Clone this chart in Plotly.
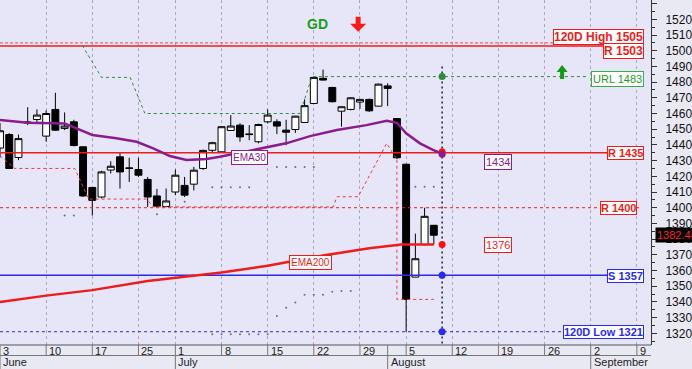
import plotly.graph_objects as go

# ---------------- data (x = trading-day index, 0 = 3 June) ----------------
days = list(range(48))
opens = [1438, 1446.6, 1432, 1454, 1456.2, 1445.6, 1462.6, 1450.5, 1454.7, 1438.8,
         1412.9, 1406.8, 1424, 1432.4, 1425, 1424.3, 1418, 1407.5, 1400.8, 1410,
         1414.2, 1415, 1425, 1436.6, 1435.6, 1449.2, 1452.6, 1447, 1442, 1454.7,
         1454.7, 1449.4, 1449.8, 1454.3, 1466.4, 1482.4, 1476.6, 1461.5, 1462.6, 1467.3,
         1469, 1464.7, 1477.6, 1456.8, 1427.7, 1355.8, 1376.5, 1388.8]
highs = [1454, 1447.5, 1446.6, 1464, 1462.6, 1462, 1473.2, 1460.7, 1456, 1439,
         1413, 1423.5, 1429.6, 1435, 1431.8, 1431.8, 1419.6, 1412, 1412.2, 1424.3,
         1419.6, 1426, 1437, 1442, 1452, 1459, 1453.7, 1452.6, 1453.5, 1462.6,
         1456.3, 1456, 1458.5, 1469, 1483, 1488, 1477, 1464.5, 1470.5, 1469,
         1469.5, 1479, 1479.2, 1457, 1428, 1383.5, 1400, 1389]
lows = [1432, 1425, 1430.3, 1452.6, 1454, 1442, 1449, 1449.4, 1439, 1406.8,
        1395, 1406, 1421.8, 1412.2, 1416.4, 1419.6, 1400.5, 1400.5, 1400.5, 1408,
        1406.8, 1411, 1424, 1435, 1435, 1449, 1442, 1443, 1441, 1453.7,
        1446.9, 1439.8, 1447.6, 1454, 1466, 1481, 1467, 1451.6, 1462, 1463,
        1461, 1464.5, 1464.7, 1431, 1321, 1355.8, 1376, 1376.5]
closes = [1449, 1425, 1444, 1454.5, 1459, 1460, 1449.4, 1452, 1439.6, 1407.5,
          1404.7, 1422.8, 1426.4, 1422.8, 1425.3, 1420.7, 1406.8, 1401, 1404.3, 1420.7,
          1408, 1423.9, 1436.5, 1441.4, 1451.6, 1452, 1445.1, 1446.6, 1453, 1459,
          1452, 1448.1, 1458.3, 1465, 1483, 1481.3, 1467.5, 1464.3, 1470, 1469,
          1461.7, 1478.7, 1476, 1431.8, 1341.6, 1367.5, 1394.5, 1382.46]
last_price = 1382.46

ema30_x = [0, 3, 7, 8.7, 10, 12.6, 14.8, 16.6, 18.4, 20.2, 22.4, 23.8, 28.2, 31,
           33.6, 36.5, 39.7, 41.9, 43, 44, 45.5, 46.9, 47.9]
ema30_y = [1455.8, 1454.1, 1453.7, 1449.5, 1446.3, 1444.2, 1442, 1437.8, 1432.9, 1430.4,
           1431, 1432.4, 1437.8, 1441, 1445.6, 1449.5, 1452.6, 1455.4, 1454.1, 1447.4,
           1441, 1436.8, 1434.4]
ema200_x = [0, 5, 10, 16, 24, 29, 35, 40, 43.5, 47]
ema200_y = [1340, 1344, 1347.5, 1353.3, 1358.7, 1363, 1369.5, 1374.2, 1376.5, 1376.5]

url_x = [8.9, 11.0, 14.1, 15.7, 32.5, 33.8, 47.9, 63.6]
url_y = [1503.5, 1483, 1483, 1460, 1460, 1483.5, 1483.5, 1483.5]
lrl_x = [0, 1.6, 8.1, 9.6, 15.9, 16.6, 36.1, 36.5, 38.8, 41.9, 42.8, 43.0, 43.0, 47]
lrl_y = [1433, 1425, 1425, 1405.5, 1405.5, 1400.5, 1400.5, 1407, 1407, 1441, 1432.4,
         1432, 1341.6, 1341.6]

upper_dots_x = [7, 8, 17, 20, 23, 24, 25, 26, 27, 30, 31, 32, 33, 34, 45, 46, 47]
upper_dots_y = [1395, 1395, 1395.8, 1403.8, 1413, 1413, 1413, 1413, 1413, 1426, 1426,
                1426, 1426, 1426, 1413.4, 1413.4, 1413.4]
lower_dots_x = [23, 24, 25, 26, 27, 28, 29, 30, 31, 32, 33, 34, 35, 36, 37, 38]
lower_dots_y = [1319.4, 1319.4, 1319.4, 1319.4, 1319.4, 1319.4, 1319.4, 1331, 1336.3,
                1339.7, 1344.6, 1344.6, 1344.6, 1346.5, 1347, 1347]

level_names = ["120D High 1505", "R 1503", "R 1435", "R 1400", "S 1357", "120D Low 1321"]
level_values = [1505, 1503, 1435, 1400, 1357, 1321]

today_x = 47.9
today_points = [1483.5, 1435.6, 1434.0, 1376.5, 1357, 1321]

ema30_last = 1434
ema200_last = 1376
url_level = 1483

week_idx = [0, 5, 10, 15, 19, 24, 29, 34, 39, 44, 49, 54, 59, 64, 69]
day_labels = ['3', '10', '17', '25', '1', '8', '15', '22', '29', '5', '12', '19', '26', '2', '9']
month_idx = [0, 19, 42, 64]
month_labels = ['June', 'July', 'August', 'September']

# signal arrows: (x index, price at tip, direction)
sell_arrow = (38.8, 1512.1, "down")
buy_arrow = (60.9, 1490.9, "up")

# ---------------- styles ----------------
FONT = "Liberation Sans, Arial, sans-serif"
RED = "#EE1C1C"
BLUE = "#2A2AEE"
GREEN = "#2E8B3A"
PURPLE = "#8A1C8E"
W, H = 692, 369
ML, MR, MT, MB = 0, 41, 0, 24
PW, PH = W - ML - MR, H - MT - MB
X_RANGE = [0, 70.53]
Y_RANGE = [1312.55, 1532.3]
PX_X = (X_RANGE[1] - X_RANGE[0]) / PW   # data units per pixel
PX_Y = (Y_RANGE[1] - Y_RANGE[0]) / PH


def py(p):
    """pixel row below plot -> paper y"""
    return -(p - (H - MB)) / PH


def arrow_path(xc, ytip, direction, head_hw, head_h, shaft_hw, total_h):
    s = -1 if direction == "down" else 1
    yb = ytip - s * head_h * PX_Y
    ye = ytip - s * total_h * PX_Y
    hw, sw = head_hw * PX_X, shaft_hw * PX_X
    pts = [(xc, ytip), (xc + hw, yb), (xc + sw, yb), (xc + sw, ye),
           (xc - sw, ye), (xc - sw, yb), (xc - hw, yb)]
    return "M " + " L ".join("%.4f,%.4f" % p for p in pts) + " Z"


fig = go.Figure()

level_styles = [
    dict(color="#F04A4A", width=1, dash="3px,2px"),
    dict(color=RED, width=1.5, dash="solid"),
    dict(color=RED, width=1.5, dash="solid"),
    dict(color=RED, width=1, dash="3px,3px"),
    dict(color=BLUE, width=1.5, dash="solid"),
    dict(color=BLUE, width=1, dash="3px,3px"),
]
for val, st in zip(level_values, level_styles):
    fig.add_trace(go.Scatter(x=[X_RANGE[0], 69.5], y=[val, val], mode="lines",
                             line=st, hoverinfo="skip", showlegend=False))

fig.add_trace(go.Scatter(x=url_x, y=url_y, mode="lines",
                         line=dict(color=GREEN, width=1, dash="3px,3px"),
                         hoverinfo="skip", showlegend=False))
fig.add_trace(go.Scatter(x=lrl_x, y=lrl_y, mode="lines",
                         line=dict(color="#F03A3A", width=1, dash="3px,3px"),
                         hoverinfo="skip", showlegend=False))
fig.add_trace(go.Scatter(x=upper_dots_x, y=upper_dots_y, mode="markers",
                         marker=dict(color="#6A6A80", size=2), hoverinfo="skip", showlegend=False))
fig.add_trace(go.Scatter(x=lower_dots_x, y=lower_dots_y, mode="markers",
                         marker=dict(color="#6A6A9A", size=2), hoverinfo="skip", showlegend=False))

fig.add_trace(go.Candlestick(x=days, open=opens, high=highs, low=lows, close=closes,
                             increasing=dict(line=dict(color="black", width=1), fillcolor="white"),
                             decreasing=dict(line=dict(color="black", width=1), fillcolor="black"),
                             whiskerwidth=0, hoverinfo="skip", showlegend=False))

fig.add_trace(go.Scatter(x=ema200_x, y=ema200_y, mode="lines",
                         line=dict(color=RED, width=2.5), hoverinfo="skip", showlegend=False))
fig.add_trace(go.Scatter(x=ema30_x, y=ema30_y, mode="lines",
                         line=dict(color=PURPLE, width=2.5), hoverinfo="skip", showlegend=False))

fig.add_trace(go.Scatter(x=[today_x, today_x], y=[1490, Y_RANGE[0]], mode="lines",
                         line=dict(color="#222233", width=1.5, dash="2px,3px"),
                         hoverinfo="skip", showlegend=False))
fig.add_trace(go.Scatter(x=[today_x] * len(today_points), y=today_points, mode="markers",
                         marker=dict(color=[GREEN, "#FF1010", PURPLE, "#FF1010", BLUE, BLUE], size=7),
                         hoverinfo="skip", showlegend=False))

annotations = []
label_specs = [
    (level_names[0], level_values[0], RED, 69.75, 5.5, 12),
    (level_names[1], level_values[1], RED, 69.75, -4.5, 12),
    (level_names[2], level_values[2], RED, 69.75, 0, 11),
    (level_names[3], level_values[3], RED, 69.0, 0, 11),
    (level_names[4], level_values[4], BLUE, 69.75, -1, 11),
    (level_names[5], level_values[5], BLUE, 69.75, 0, 11),
]
for txt, val, col, xr, ys, fs in label_specs:
    annotations.append(dict(x=xr, y=val, xref="x", yref="y", text="<b>%s</b>" % txt,
                            showarrow=False, xanchor="right", yanchor="middle", yshift=ys,
                            font=dict(family=FONT, size=fs, color=col),
                            bgcolor="white", bordercolor=col, borderwidth=1, borderpad=0))
annotations.append(dict(x=69.75, y=url_level, xref="x", yref="y", text="URL %d" % url_level,
                        showarrow=False, xanchor="right", yanchor="middle", yshift=-1.5,
                        font=dict(family=FONT, size=11, color="#1F9A2A"),
                        bgcolor="white", bordercolor="#3DAA48", borderwidth=1, borderpad=1))
annotations.append(dict(x=53.9, y=ema30_last, xref="x", yref="y", text=str(ema30_last),
                        showarrow=False, xanchor="center", yanchor="middle", yshift=-8,
                        font=dict(family=FONT, size=11, color=PURPLE),
                        bgcolor="white", bordercolor=PURPLE, borderwidth=1, borderpad=1))
annotations.append(dict(x=53.9, y=ema200_last, xref="x", yref="y", text=str(ema200_last),
                        showarrow=False, xanchor="center", yanchor="middle", yshift=0,
                        font=dict(family=FONT, size=11, color=RED),
                        bgcolor="white", bordercolor=RED, borderwidth=1, borderpad=1))
annotations.append(dict(x=26.98, y=1432.2, xref="x", yref="y", text="EMA30",
                        showarrow=False, font=dict(family=FONT, size=10, color=PURPLE),
                        bgcolor="white", bordercolor=PURPLE, borderwidth=1, borderpad=1))
annotations.append(dict(x=33.64, y=1365.3, xref="x", yref="y", text="EMA200",
                        showarrow=False, font=dict(family=FONT, size=10, color=RED),
                        bgcolor="white", bordercolor=RED, borderwidth=1, borderpad=1))
annotations.append(dict(x=34.45, y=1517.0, xref="x", yref="y", text="<b>GD</b>",
                        showarrow=False, font=dict(family=FONT, size=14, color="#1E9A1E")))
annotations.append(dict(x=(PW + 4) / PW, y=last_price, xref="paper", yref="y",
                        text="%.2f" % last_price, showarrow=False, xanchor="left",
                        yanchor="middle", font=dict(family=FONT, size=11, color="#FF2020"),
                        bgcolor="black", borderpad=1))
for i, lab in zip(week_idx, day_labels):
    annotations.append(dict(x=i, y=py(350.5), xref="x", yref="paper", text=lab,
                            showarrow=False, xanchor="left", yanchor="middle", xshift=1,
                            font=dict(family=FONT, size=11, color="#222222")))
for i, lab in zip(month_idx, month_labels):
    annotations.append(dict(x=i, y=py(362), xref="x", yref="paper", text=lab,
                            showarrow=False, xanchor="left", yanchor="middle", xshift=1,
                            font=dict(family=FONT, size=11, color="#222222")))

shapes = [
    dict(type="line", xref="paper", yref="paper", x0=0, x1=1, y0=0, y1=0,
         line=dict(color="#555555", width=1)),
    dict(type="line", xref="paper", yref="paper", x0=0, x1=1, y0=py(355.5), y1=py(355.5),
         line=dict(color="#777777", width=1)),
    dict(type="path", xref="x", yref="y",
         path=arrow_path(sell_arrow[0], sell_arrow[1], sell_arrow[2], 8, 8, 2.5, 15),
         fillcolor="#FF1A1A", line=dict(width=0)),
    dict(type="path", xref="x", yref="y",
         path=arrow_path(buy_arrow[0], buy_arrow[1], buy_arrow[2], 5.5, 7, 2, 14),
         fillcolor="#169A16", line=dict(width=0)),
]
for i in week_idx + [42]:
    shapes.append(dict(type="line", xref="x", yref="paper", x0=i, x1=i, y0=0, y1=py(355.5),
                       line=dict(color="#777777", width=1)))
for i in month_idx:
    shapes.append(dict(type="line", xref="x", yref="paper", x0=i, x1=i, y0=py(355.5), y1=py(369),
                       line=dict(color="#777777", width=1)))

fig.update_layout(
    width=W, height=H, autosize=False,
    margin=dict(l=ML, r=MR, t=MT, b=MB, pad=0),
    paper_bgcolor="#E9E9F4", plot_bgcolor="#E6E6F8",
    boxgap=0.25, boxgroupgap=0,
    annotations=annotations, shapes=shapes,
    xaxis=dict(range=X_RANGE, tickvals=week_idx, showticklabels=False, ticks="",
               showgrid=True, gridcolor="#A9A9BC", griddash="dot", gridwidth=1,
               zeroline=False, showline=False, rangeslider=dict(visible=False), fixedrange=True),
    yaxis=dict(range=Y_RANGE, side="right", dtick=10, tick0=1320, showgrid=False,
               zeroline=False, showline=True, linecolor="#333333", linewidth=1,
               ticks="outside", ticklen=5, tickcolor="#333333", ticklabelstandoff=6,
               tickfont=dict(family=FONT, size=12, color="#111111"),
               minor=dict(dtick=5, tick0=1315, ticks="outside", ticklen=3, tickcolor="#333333"),
               fixedrange=True),
    font=dict(family=FONT),
)

fig.write_html("out.html", config={"displayModeBar": False})
